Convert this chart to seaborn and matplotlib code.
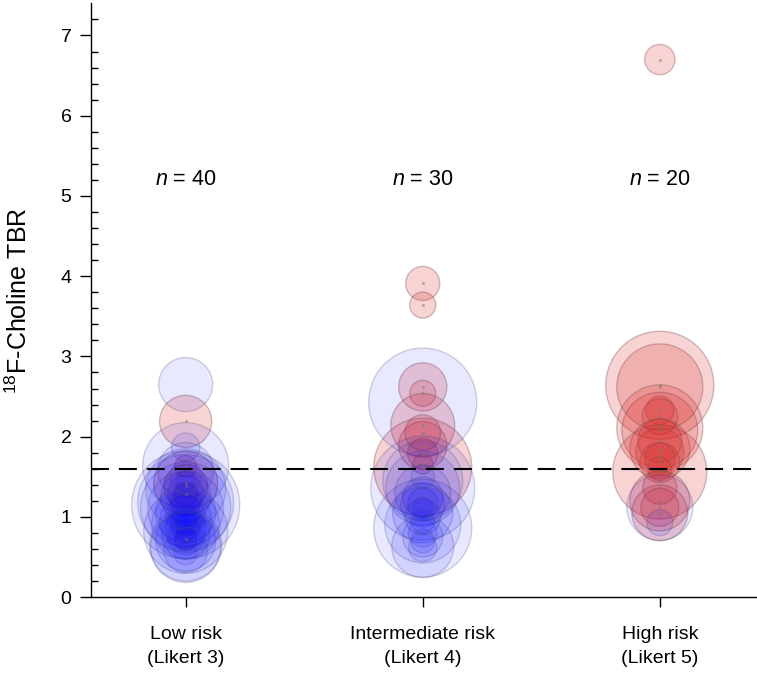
import pandas as pd
import matplotlib
matplotlib.use('Agg')
import matplotlib.pyplot as plt
import seaborn as sns

# --- Data: TBR value, lesion volume (bubble area) and group per risk class ---
categories = ['Low risk\n(Likert 3)', 'Intermediate risk\n(Likert 4)', 'High risk\n(Likert 5)']
n_labels = [40, 30, 20]

low_tbr = [2.65, 2.19, 1.87, 1.64, 1.63, 1.58, 1.42, 1.38, 1.30, 1.25,
           1.20, 1.15, 1.12, 1.10, 1.05, 1.02, 1.00, 0.98, 0.95, 0.92,
           0.90, 0.88, 0.85, 0.82, 0.80, 0.78, 0.75, 0.72, 0.70, 0.65,
           0.62, 0.58, 0.55, 1.45, 1.35, 1.28, 1.18, 0.96, 1.08, 1.50]
low_vol = [7.3, 6.8, 2.0, 18.5, 1.2, 7.8, 10.2, 4.8, 3.2, 6.3,
           2.3, 29.2, 20.3, 14.4, 9.0, 4.0, 1.4, 2.6, 6.8, 1.0,
           11.6, 2.0, 4.0, 17.6, 0.8, 5.8, 3.2, 1.2, 9.0, 13.0,
           12.3, 4.8, 1.4, 1.0, 16.0, 1.4, 23.0, 0.6, 2.9, 2.6]
low_grp = ['b', 'r', 'b', 'b', 'r', 'b', 'r', 'r', 'b', 'b',
           'b', 'b', 'b', 'b', 'b', 'b', 'b', 'b', 'b', 'b',
           'b', 'b', 'b', 'b', 'b', 'b', 'b', 'r', 'b', 'b',
           'b', 'b', 'b', 'b', 'b', 'r', 'b', 'b', 'b', 'b']

mid_tbr = [3.91, 3.64, 2.43, 2.62, 2.54, 2.14, 1.89, 1.79, 1.62, 1.66,
           1.36, 1.36, 1.30, 1.25, 1.17, 1.15, 1.12, 1.05, 1.00, 0.95,
           0.86, 0.90, 0.80, 0.75, 0.70, 0.63, 0.62, 1.45, 1.50, 2.05]
mid_vol = [2.9, 1.7, 29.2, 5.8, 1.7, 10.2, 5.8, 2.3, 24.0, 1.0,
           27.0, 13.7, 7.8, 4.0, 2.3, 4.8, 1.0, 9.0, 3.2, 1.4,
           24.0, 14.4, 2.0, 4.0, 1.4, 9.6, 2.0, 16.0, 1.4, 3.2]
mid_grp = ['r', 'r', 'b', 'r', 'r', 'r', 'r', 'r', 'r', 'r',
           'b', 'b', 'b', 'b', 'b', 'b', 'b', 'b', 'b', 'b',
           'b', 'b', 'b', 'b', 'b', 'b', 'b', 'b', 'b', 'r']

high_tbr = [6.70, 2.64, 2.62, 2.33, 2.25, 2.11, 2.08, 1.95, 1.85, 1.81,
            1.73, 1.68, 1.56, 1.60, 1.37, 1.12, 1.12, 0.93, 1.05, 1.20]
high_vol = [2.3, 29.2, 18.5, 2.0, 3.2, 18.5, 14.4, 4.8, 9.0, 5.8,
            2.3, 4.0, 22.1, 1.4, 2.9, 10.9, 3.6, 1.7, 7.8, 9.0]
high_grp = ['r', 'r', 'r', 'r', 'r', 'r', 'r', 'r', 'r', 'r',
            'r', 'r', 'r', 'r', 'r', 'b', 'r', 'b', 'r', 'r']

cutoff = 1.6

df = pd.DataFrame({
    'risk': [categories[0]] * len(low_tbr) + [categories[1]] * len(mid_tbr) + [categories[2]] * len(high_tbr),
    'tbr': low_tbr + mid_tbr + high_tbr,
    'vol': low_vol + mid_vol + high_vol,
    'grp': low_grp + mid_grp + high_grp,
})
df['risk'] = pd.Categorical(df['risk'], categories=categories, ordered=True)
df = df.sort_values('risk', kind='stable')

# --- Style ---
sns.set_style('ticks')
plt.rcParams['font.family'] = ['Liberation Sans', 'DejaVu Sans']
plt.rcParams['mathtext.fontset'] = 'custom'
plt.rcParams['mathtext.rm'] = 'Liberation Sans'
plt.rcParams['mathtext.it'] = 'Liberation Sans:italic'
plt.rcParams['text.color'] = 'black'
plt.rcParams['axes.labelcolor'] = 'black'
plt.rcParams['xtick.color'] = 'black'
plt.rcParams['ytick.color'] = 'black'

fig = plt.figure(figsize=(7.57, 6.74), dpi=100)
ax = fig.add_axes([0.120, 0.114, 0.880, 0.881])

# bubble area proportional to volume (30 -> ~54 px radius)
size_kw = dict(size='vol', sizes=(0, 6221), size_norm=(0, 30), legend=False)

reds = df[df['grp'] == 'r']
sns.scatterplot(data=reds, x='risk', y='tbr', ax=ax,
                facecolor=(0.85, 0.15, 0.15, 0.20), edgecolor=(0.5, 0.3, 0.3, 0.35),
                linewidth=1.0, **size_kw)
sns.scatterplot(data=df[df['grp'] == 'b'], x='risk', y='tbr', ax=ax,
                facecolor=(0.0, 0.0, 1.0, 0.09), edgecolor=(0.3, 0.3, 0.5, 0.25),
                linewidth=1.0, **size_kw)
# small centre dots
sns.scatterplot(data=reds, x='risk', y='tbr', ax=ax, s=4, color=(0.45, 0.5, 0.35),
                alpha=0.6, linewidth=0, legend=False)

ax.axhline(cutoff, color='black', lw=1.5, dashes=(8.6, 4.8))

for i, n in enumerate(n_labels):
    ax.text(i, 5.2, r'$\mathit{n}$ = %d' % n, ha='center', va='center', fontsize=15.5)

ax.set_xlim(-0.40, 2.41)
ax.set_ylim(0, 7.4)
ax.set_yticks(range(0, 8))
ax.set_yticks([i / 5 for i in range(0, 37)], minor=True)
ax.tick_params(axis='y', which='major', length=8, width=1, labelsize=14, direction='out', pad=6)
ax.tick_params(axis='y', which='minor', length=5, width=1, direction='in')
ax.tick_params(axis='x', length=7, width=1, labelsize=14, direction='out', pad=14)
for lab in ax.get_xticklabels():
    lab.set_linespacing(1.5)
ax.set_xlabel('')
ax.set_ylabel(r'$\mathregular{^{18}}$F-Choline TBR', fontsize=18)
ax.yaxis.set_label_coords(-0.089, 0.5)
sns.despine(ax=ax)
for s in ['left', 'bottom']:
    ax.spines[s].set_linewidth(1.0)
    ax.spines[s].set_color('black')

fig.savefig('out.png', dpi=100)
